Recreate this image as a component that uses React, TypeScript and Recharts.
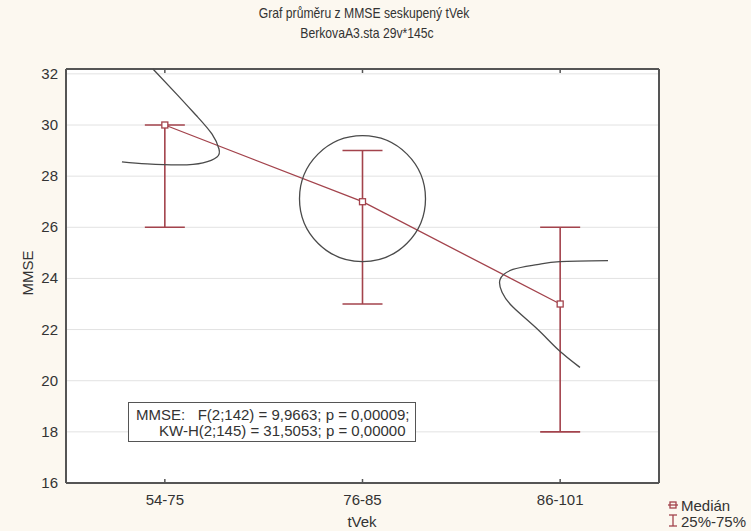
import React from 'react';
import {
  ComposedChart,
  Line,
  Scatter,
  ErrorBar,
  XAxis,
  YAxis,
  CartesianGrid,
  ReferenceDot,
} from 'recharts';

const categories = ['54-75', '76-85', '86-101'];
const medians = [30, 27, 23];
const q25 = [26, 23, 18];
const q75 = [30, 29, 26];
const yTicks = [16, 18, 20, 22, 24, 26, 28, 30, 32];

// hand-drawn marks over the chart, as [category position, MMSE] pairs
const sketchFirst = [
  [-0.06, 32.19], [0.062, 31.19], [0.163, 30.34], [0.239, 29.64], [0.274, 29.06],
  [0.264, 28.75], [0.193, 28.52], [0.077, 28.44], [-0.09, 28.48], [-0.217, 28.56],
];
const sketchThird = [
  [2.242, 24.7], [1.999, 24.66], [1.883, 24.54], [1.761, 24.35], [1.696, 23.96],
  [1.706, 23.46], [1.761, 22.88], [1.883, 22.03], [1.989, 21.22], [2.1, 20.52],
];
const circleAt = { x: 1, y: 27.12 };

const RED = '#a3434c';
const INK = '#4a4a4a';
const FRAME = '#555555';
const TEXT = '#333333';
const FONT = '"Liberation Sans", Arial, sans-serif';

const rows = categories.map((c, i) => ({
  x: i,
  median: medians[i],
  err: [medians[i] - q25[i], q75[i] - medians[i]],
}));
const toPoints = (arr: number[][]) => arr.map(([x, y]) => ({ x, y }));

const BottomTick = (props: any) => {
  const { x, y, payload } = props;
  return (
    <g>
      <line x1={x} y1={y} x2={x} y2={y - 4} stroke={FRAME} strokeWidth={1.5} />
      <text x={x} y={y + 22} textAnchor="middle" fill={TEXT} fontSize={15} fontFamily={FONT}>
        {categories[payload.value]}
      </text>
    </g>
  );
};

const TopTick = (props: any) => (
  <line x1={props.x} y1={props.y} x2={props.x} y2={props.y + 4} stroke={FRAME} strokeWidth={1.5} />
);

const LeftTick = (props: any) => {
  const { x, y, payload } = props;
  return (
    <text x={x - 8} y={y + 5} textAnchor="end" fill={TEXT} fontSize={15} fontFamily={FONT}>
      {payload.value}
    </text>
  );
};

const RightTick = (props: any) => (
  <line x1={props.x} y1={props.y} x2={props.x - 4} y2={props.y} stroke={FRAME} strokeWidth={1.5} />
);

const SquareDot = (props: any) => {
  const { cx, cy, index } = props;
  return (
    <rect key={index} x={cx - 3} y={cy - 3} width={6} height={6} fill="#fff" stroke={RED} strokeWidth={1.3} />
  );
};

const abs = (left: number, top: number, extra: React.CSSProperties = {}): React.CSSProperties => ({
  position: 'absolute',
  left,
  top,
  fontFamily: FONT,
  fontSize: 15,
  color: TEXT,
  whiteSpace: 'pre',
  lineHeight: '15px',
  ...extra,
});

export default function App() {
  return (
    <div style={{ position: 'absolute', left: 0, top: 0, width: 751, height: 531, background: '#fcf8f0' }}>
      <ComposedChart
        width={751}
        height={531}
        data={rows}
        margin={{ top: 68, right: 91, bottom: 47, left: 65 }}
      >
        <CartesianGrid vertical={false} stroke="#e2e2e2" fill="#ffffff" />
        <XAxis
          dataKey="x"
          type="number"
          domain={[-0.5, 2.5]}
          ticks={[0, 1, 2]}
          height={1}
          tickSize={0}
          tickMargin={0}
          tick={<BottomTick />}
          axisLine={{ stroke: FRAME, strokeWidth: 2 }}
          tickLine={false}
        />
        <XAxis
          xAxisId="top"
          orientation="top"
          dataKey="x"
          type="number"
          domain={[-0.5, 2.5]}
          ticks={[0, 1, 2]}
          height={1}
          tickSize={0}
          tickMargin={0}
          tick={<TopTick />}
          axisLine={{ stroke: FRAME, strokeWidth: 2 }}
          tickLine={false}
        />
        <YAxis
          type="number"
          domain={[16, 32]}
          ticks={yTicks}
          width={1}
          tickSize={0}
          tickMargin={0}
          tick={<LeftTick />}
          axisLine={{ stroke: FRAME, strokeWidth: 2 }}
          tickLine={false}
        />
        <YAxis
          yAxisId="right"
          orientation="right"
          type="number"
          domain={[16, 32]}
          ticks={yTicks}
          width={1}
          tickSize={0}
          tickMargin={0}
          tick={<RightTick />}
          axisLine={{ stroke: FRAME, strokeWidth: 2 }}
          tickLine={false}
        />
        <Line
          dataKey="median"
          type="linear"
          stroke={RED}
          strokeWidth={1.3}
          dot={<SquareDot />}
          activeDot={false}
          isAnimationActive={false}
        >
          <ErrorBar dataKey="err" direction="y" width={20} stroke={RED} strokeWidth={1.6} isAnimationActive={false} />
        </Line>
        <Scatter
          data={toPoints(sketchFirst)}
          dataKey="y"
          line={{ stroke: INK, strokeWidth: 1.3 }}
          lineJointType="natural"
          shape={() => <g />}
          isAnimationActive={false}
        />
        <Scatter
          data={toPoints(sketchThird)}
          dataKey="y"
          line={{ stroke: INK, strokeWidth: 1.3 }}
          lineJointType="natural"
          shape={() => <g />}
          isAnimationActive={false}
        />
        <ReferenceDot
          x={circleAt.x}
          y={circleAt.y}
          r={63}
          fill="none"
          stroke={INK}
          strokeWidth={1.3}
        />
      </ComposedChart>

      <div style={abs(364, 6, { fontSize: 14.5, transform: 'translateX(-50%) scaleX(0.84)' })}>
        Graf průměru z MMSE seskupený tVek
      </div>
      <div style={abs(367, 26, { fontSize: 14.5, transform: 'translateX(-50%) scaleX(0.84)' })}>
        BerkovaA3.sta 29v*145c
      </div>

      <div style={abs(27, 273, { transform: 'translate(-50%, -50%) rotate(-90deg)' })}>MMSE</div>
      <div style={abs(362, 514, { transform: 'translateX(-50%)' })}>tVek</div>

      <div
        style={{
          position: 'absolute',
          left: 128,
          top: 402,
          width: 286,
          height: 38,
          background: '#fff',
          border: `1.5px solid ${FRAME}`,
        }}
      />
      <div style={abs(136, 407)}>MMSE:   F(2;142) = 9,9663; p = 0,00009;</div>
      <div style={abs(159, 423)}>KW-H(2;145) = 31,5053; p = 0,00000</div>

      <svg style={{ position: 'absolute', left: 667, top: 498 }} width={12} height={32}>
        <line x1={1} y1={7} x2={11} y2={7} stroke={RED} strokeWidth={1.3} />
        <rect x={3} y={4} width={6} height={6} fill="none" stroke={RED} strokeWidth={1.3} />
        <line x1={2} y1={17} x2={10} y2={17} stroke={RED} strokeWidth={1.3} />
        <line x1={6} y1={17} x2={6} y2={28} stroke={RED} strokeWidth={1.3} />
        <line x1={2} y1={28} x2={10} y2={28} stroke={RED} strokeWidth={1.3} />
      </svg>
      <div style={abs(681, 498)}>Medián</div>
      <div style={abs(681, 514)}>25%-75%</div>
    </div>
  );
}
